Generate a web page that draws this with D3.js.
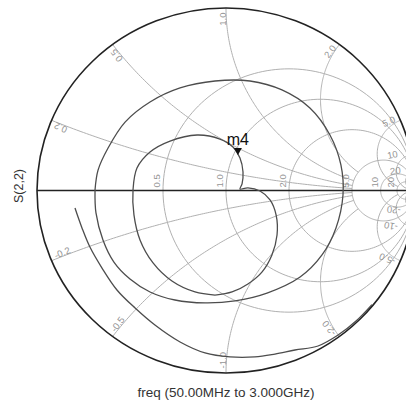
<!DOCTYPE html>
<html><head><meta charset="utf-8">
<script src="https://cdn.jsdelivr.net/npm/d3@7"></script>
<style>html,body{margin:0;padding:0;background:#fff;overflow:hidden}</style>
</head><body><svg id="chart" width="406" height="405"></svg>
<script>
// Smith chart grid values
const resistanceGrid = [0.5, 1, 2, 5, 10, 20];
const resistanceLabels = ["0.5", "1.0", "2.0", "5.0", "10", "20"];
const reactanceGrid = [0.2, 0.5, 1, 2, 5, 10, 20];
const reactanceReach = [5, 5, 5, 5, 20, 50, 50];
const reactanceLabelsPos = ["0.2", "0.5", "1.0", "2.0", "5.0", "10", "20"];
const reactanceLabelsNeg = ["-0.2", "-0.5", "-1.0", "-2.0", "-5.0", "-10", "-20"];

// S(2,2) reflection coefficient, real and imaginary parts (NaN separates pieces)
const s22Re = [
  -0.799,-0.762,-0.720,-0.656,-0.577,-0.481,-0.376,-0.243,-0.111,0.021,0.153,0.259,0.365,0.487,0.593,0.688,0.772,
  NaN,
  -0.693,-0.688,-0.651,-0.593,-0.508,-0.402,-0.270,-0.111,0.048,0.217,0.392,0.508,0.582,0.619,0.608,0.550,0.444,0.296,0.127,-0.058,-0.243,-0.402,-0.534,-0.624,-0.677,-0.693,
  NaN,
  -0.058,-0.164,-0.286,-0.386,-0.455,-0.487,-0.492,-0.471,-0.402,-0.296,-0.153,-0.032,0.037,0.074,0.090,0.085,0.074,0.116,0.180,0.233,0.265,0.270,0.243,0.190,0.116,0.032,-0.058];
const s22Im = [
  -0.096,-0.205,-0.310,-0.425,-0.545,-0.644,-0.737,-0.830,-0.890,-0.912,-0.912,-0.896,-0.874,-0.852,-0.792,-0.715,-0.625,
  NaN,
  0.003,-0.123,-0.271,-0.392,-0.485,-0.556,-0.600,-0.616,-0.605,-0.562,-0.474,-0.353,-0.205,-0.025,0.140,0.304,0.452,0.551,0.600,0.600,0.562,0.485,0.375,0.233,0.112,0.003,
  NaN,
  -0.573,-0.556,-0.496,-0.397,-0.271,-0.134,0.003,0.123,0.211,0.271,0.304,0.282,0.238,0.178,0.101,0.036,0.008,0.014,-0.003,-0.052,-0.134,-0.244,-0.353,-0.447,-0.512,-0.556,-0.573];

const markerName = "m4";
const markerRe = 0.063, markerIm = 0.195;
const yTitle = "S(2,2)";
const xTitle = "freq (50.00MHz to 3.000GHz)";

const svg = d3.select("#chart");
const gx = d3.scaleLinear().domain([-1, 1]).range([37, 415]);
const gy = d3.scaleLinear().domain([-1, 1]).range([373, 8]);
const font = "'Liberation Sans', Arial, sans-serif";

function gamma(r, x) {
  const d = (r + 1) * (r + 1) + x * x;
  return [(r * r - 1 + x * x) / d, (2 * x) / d];
}
const line = d3.line().x(d => gx(d[0])).y(d => gy(d[1]));

svg.append("defs").append("clipPath").attr("id", "unit")
  .append("ellipse").attr("cx", gx(0)).attr("cy", gy(0))
  .attr("rx", gx(1) - gx(0)).attr("ry", gy(-1) - gy(0));

const grid = svg.append("g").attr("clip-path", "url(#unit)")
  .attr("fill", "none").attr("stroke", "#b0b0b0").attr("stroke-width", 1);

// constant-resistance circles
resistanceGrid.forEach(r => {
  const c = r / (1 + r), R = 1 / (1 + r);
  const pts = d3.range(0, 361, 2).map(t => [c + R * Math.cos(t * Math.PI / 180), R * Math.sin(t * Math.PI / 180)]);
  grid.append("path").attr("d", line(pts));
});

// constant-reactance arcs, from the rim inward to their reach
reactanceGrid.forEach((x, i) => {
  const tEnd = Math.atan(reactanceReach[i]);
  [x, -x].forEach(xv => {
    const pts = d3.range(0, 121).map(k => gamma(Math.tan(tEnd * k / 120), xv));
    grid.append("path").attr("d", line(pts));
  });
});

// real axis and rim
svg.append("line").attr("x1", gx(-1)).attr("x2", gx(1)).attr("y1", gy(0)).attr("y2", gy(0))
  .attr("stroke", "#222").attr("stroke-width", 1.3);
svg.append("ellipse").attr("cx", gx(0)).attr("cy", gy(0))
  .attr("rx", gx(1) - gx(0)).attr("ry", gy(-1) - gy(0))
  .attr("fill", "none").attr("stroke", "#222").attr("stroke-width", 1.6);

// resistance labels along the real axis
const lab = svg.append("g").attr("font-family", font).attr("font-size", 9.5).attr("fill", "#959595");
resistanceGrid.forEach((r, i) => {
  const px = gx((r - 1) / (r + 1)) - 3, py = gy(0) - 3;
  lab.append("text").attr("transform", `translate(${px},${py}) rotate(-90)`)
    .attr("text-anchor", "start").text(resistanceLabels[i]);
});

// reactance labels at the rim
reactanceGrid.forEach((x, i) => {
  [[x, reactanceLabelsPos[i]], [-x, reactanceLabelsNeg[i]]].forEach(([xv, txt]) => {
    const g = gamma(0, xv);
    const phi = Math.atan2(g[1], g[0]) * 180 / Math.PI;
    const k = Math.abs(xv) >= 10 ? 0.93 : 0.975;
    const px = gx(g[0] * k), py = gy(g[1] * k);
    const rot = xv > 0 ? -phi : -180 - phi;
    lab.append("text").attr("transform", `translate(${px},${py}) rotate(${rot})`)
      .attr("text-anchor", xv > 0 ? "end" : "start").text(txt);
  });
});

// S(2,2) trace
const pts = s22Re.map((v, i) => [v, s22Im[i]]);
svg.append("path")
  .attr("d", d3.line().defined(d => !isNaN(d[0])).x(d => gx(d[0])).y(d => gy(d[1])).curve(d3.curveCatmullRom)(pts))
  .attr("fill", "none").attr("stroke", "#4d4d4d").attr("stroke-width", 1.3);

// marker
const mx = gx(markerRe), my = gy(markerIm);
svg.append("path").attr("d", `M${mx - 4},${my - 7}L${mx + 4},${my - 7}L${mx},${my}Z`).attr("fill", "#111");
svg.append("text").attr("x", mx).attr("y", my - 10).attr("text-anchor", "middle")
  .attr("font-family", font).attr("font-size", 16).attr("fill", "#111").text(markerName);

// titles
svg.append("text").attr("transform", `translate(23,186) rotate(-90)`).attr("text-anchor", "middle")
  .attr("font-family", font).attr("font-size", 12.5).attr("fill", "#333").text(yTitle);
svg.append("text").attr("x", 226).attr("y", 397).attr("text-anchor", "middle")
  .attr("font-family", font).attr("font-size", 13.5).attr("fill", "#333").text(xTitle);
</script></body></html>
